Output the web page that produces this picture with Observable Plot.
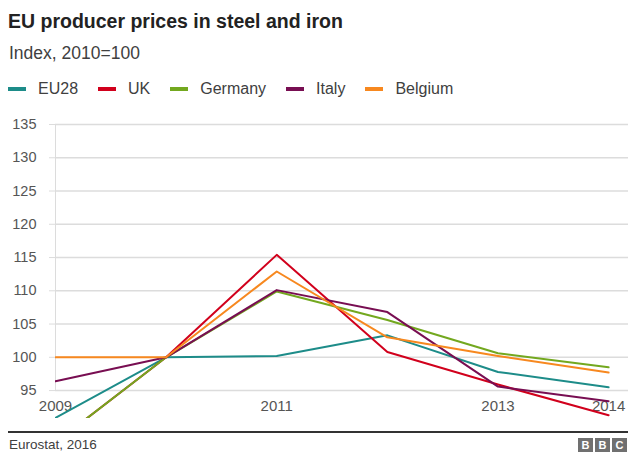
<!DOCTYPE html>
<html>
<head>
<meta charset="utf-8">
<script src="https://cdn.jsdelivr.net/npm/d3@7"></script>
<script src="https://cdn.jsdelivr.net/npm/@observablehq/plot@0.6"></script>
<style>
  html, body { margin: 0; padding: 0; background: #fff; }
  body { width: 640px; height: 465px; position: relative; overflow: hidden;
         font-family: "Liberation Sans", Arial, Helvetica, sans-serif; }
  .abs { position: absolute; white-space: nowrap; }
  #title { left: 8px; top: 11.8px; font-size: 19.5px; line-height: 19.5px; font-weight: bold; color: #222; }
  #subtitle { left: 9px; top: 44.5px; font-size: 17.5px; line-height: 17.5px; color: #404040; }
  #legend { left: 8px; top: 80.5px; display: flex; align-items: center; font-size: 16px; line-height: 16px; color: #404040; }
  .item { display: flex; align-items: center; margin-right: 20px; }
  .sw { width: 18px; height: 4px; margin-right: 12px; }
  #chart { left: 0; top: 105px; }
  #rule { left: 8px; top: 431px; width: 620px; height: 2px; background: #333; }
  #source { left: 9px; top: 437.9px; font-size: 13.5px; line-height: 13.5px; color: #404040; }
  .bbc { top: 437.5px; width: 15px; height: 14px; background: #707070; color: #fff; font-weight: bold;
         font-size: 11px; line-height: 14px; text-align: center; }
</style>
</head>
<body>
<div id="title" class="abs">EU producer prices in steel and iron</div>
<div id="subtitle" class="abs">Index, 2010=100</div>
<div id="legend" class="abs"></div>
<div id="chart" class="abs"></div>
<div id="rule" class="abs"></div>
<div id="source" class="abs">Eurostat, 2016</div>
<div class="abs bbc" style="left:578px">B</div>
<div class="abs bbc" style="left:595px">B</div>
<div class="abs bbc" style="left:612px">C</div>
<script>
const years = [2009, 2010, 2011, 2012, 2013, 2014];
const eu28    = [90.9, 100, 100.2, 103.3, 97.8, 95.5];
const uk      = [87.2, 100, 115.4, 100.8, 95.9, 91.3];
const germany = [87.2, 100, 109.9, 105.6, 100.6, 98.5];
const italy   = [96.4, 100, 110.1, 106.8, 95.6, 93.4];
const belgium = [100, 100, 112.9, 103.0, 100.2, 97.7];

const seriesNames = ["EU28", "UK", "Germany", "Italy", "Belgium"];
const seriesValues = [eu28, uk, germany, italy, belgium];
const seriesColors = ["#1d8c89", "#d1001c", "#73a81f", "#780e52", "#f7881f"];
const yTicks = [95, 100, 105, 110, 115, 120, 125, 130, 135];
const xTicks = [2009, 2011, 2013, 2014];

// legend
const legend = document.getElementById("legend");
seriesNames.forEach((name, i) => {
  const it = document.createElement("div");
  it.className = "item";
  const sw = document.createElement("div");
  sw.className = "sw";
  sw.style.background = seriesColors[i];
  const tx = document.createElement("span");
  tx.textContent = name;
  it.appendChild(sw); it.appendChild(tx);
  legend.appendChild(it);
});

const data = seriesNames.flatMap((name, i) =>
  years.map((yr, j) => ({series: name, year: yr, value: seriesValues[i][j]})));

const chart = Plot.plot({
  width: 640,
  height: 325,
  marginTop: 19,
  marginBottom: 12,
  marginLeft: 55,
  marginRight: 12,
  style: {fontFamily: "'Liberation Sans', Arial, Helvetica, sans-serif", background: "transparent", color: "#555"},
  x: {domain: [2009, 2014.18], axis: null},
  y: {domain: [90.8, 135], axis: null},
  color: {domain: seriesNames, range: seriesColors},
  marks: [
    Plot.ruleY(yTicks, {stroke: "#dcdcdc", strokeWidth: 1.5}),
    Plot.ruleX([years[0]], {y1: d3.min(yTicks), y2: d3.max(yTicks), stroke: "#dcdcdc", strokeWidth: 1}),
    Plot.axisY(yTicks, {label: null, tickSize: 6, tickPadding: 13, stroke: "#dcdcdc", fill: "#555", fontSize: 14.5}),
    Plot.axisX(xTicks, {label: null, tickSize: 0, dy: -27, fill: "#555", fontSize: 15, tickFormat: d => String(d)}),
    Plot.line(data, {x: "year", y: "value", z: "series", stroke: "series", strokeWidth: 2, clip: true})
  ]
});
document.getElementById("chart").appendChild(chart);
</script>
</body>
</html>
